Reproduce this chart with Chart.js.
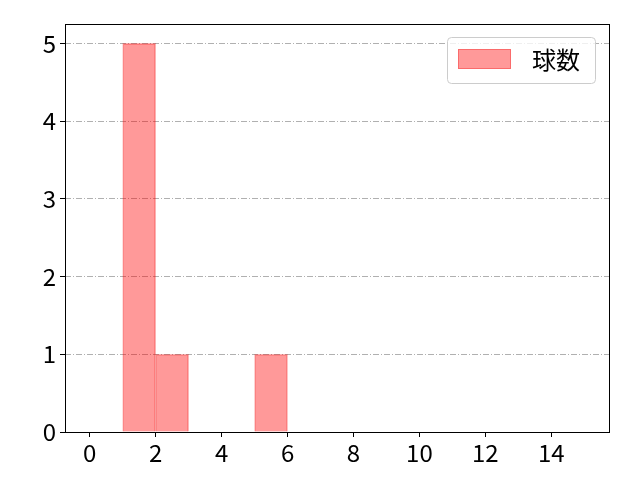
<!DOCTYPE html>
<html>
<head>
<meta charset="utf-8">
<script src="https://cdn.jsdelivr.net/npm/chart.js@4/dist/chart.umd.min.js"></script>
<style>
  body { margin: 0; background: #fff; }
  #wrap { width: 640px; height: 480px; }
</style>
</head>
<body>
<div id="wrap"><canvas id="histChart" width="640" height="480"></canvas></div>
<script>
// histogram bins (width 1) and counts
const binStarts = [0, 1, 2, 3, 4, 5, 6, 7, 8, 9, 10, 11, 12, 13, 14];
const counts = [0, 5, 1, 0, 0, 1, 0, 0, 0, 0, 0, 0, 0, 0, 0];
const seriesLabel = '球数';
const xTicks = [0, 2, 4, 6, 8, 10, 12, 14];
const yTicks = [0, 1, 2, 3, 4, 5];

const fontFam = "'Noto Sans CJK JP', 'Noto Sans', sans-serif";
const tickFont = { family: fontFam, size: 24 };
const fillCol = 'rgba(255, 0, 0, 0.4)';
const edgeCol = 'rgba(240, 0, 0, 0.3)';

// custom legend box like the original (top right, inside the plot)
const boxLegend = {
    id: 'boxLegend',
    afterDraw: chart => {
        let ctx = chart.ctx;
        let x = 447, y = 37, w = 148, h = 46;
        ctx.save();
        ctx.fillStyle = 'rgba(255,255,255,0.8)';
        ctx.strokeStyle = '#cccccc';
        ctx.lineWidth = 1;
        ctx.beginPath();
        ctx.roundRect(x + 0.5, y + 0.5, w, h, 4);
        ctx.fill();
        ctx.stroke();
        ctx.fillStyle = fillCol;
        ctx.fillRect(458, 49, 53, 20);
        ctx.strokeStyle = edgeCol;
        ctx.strokeRect(458.5, 49.5, 52, 19);
        ctx.fillStyle = '#000';
        ctx.font = '24px ' + fontFam;
        ctx.textBaseline = 'middle';
        ctx.fillText(chart.data.datasets[0].label, 532, 60);
        ctx.restore();
    }
};

// black frame around the plot area
const frame = {
    id: 'frame',
    afterDraw: chart => {
        let a = chart.chartArea;
        let ctx = chart.ctx;
        ctx.save();
        ctx.strokeStyle = '#000';
        ctx.lineWidth = 1;
        ctx.strokeRect(Math.round(a.left) + 0.5, Math.round(a.top) + 0.5,
            Math.round(a.right - a.left), Math.round(a.bottom - a.top));
        ctx.restore();
    }
};

let barChartObj = document.getElementById('histChart').getContext('2d');

let histChart = new Chart(barChartObj, {
    type: 'bar',
    data: {
        datasets: [{
            label: seriesLabel,
            data: binStarts.map((b, i) => ({ x: b + 0.5, y: counts[i] })),
            backgroundColor: fillCol,
            borderColor: edgeCol,
            borderWidth: 1,
            barPercentage: 1,
            categoryPercentage: 1,
            grouped: false
        }]
    },
    options: {
        responsive: false,
        animation: false,
        layout: { padding: { left: 0, right: 31, top: 24, bottom: 0 } },
        plugins: { legend: { display: false }, tooltip: { enabled: false } },
        scales: {
            x: {
                type: 'linear',
                offset: false,
                min: -0.75,
                max: 15.75,
                afterBuildTicks: scale => { scale.ticks = xTicks.map(v => ({ value: v })); },
                afterFit: scale => { scale.height = 48; },
                ticks: { color: '#000', font: tickFont, padding: 1, maxRotation: 0 },
                grid: { display: true, drawOnChartArea: false, drawTicks: true, tickLength: 5, tickColor: '#000', offset: false },
                border: { display: false }
            },
            y: {
                min: 0,
                max: 5.25,
                afterBuildTicks: scale => { scale.ticks = yTicks.map(v => ({ value: v })); },
                afterFit: scale => { scale.width = 65; },
                ticks: { color: '#000', font: tickFont, padding: 4 },
                grid: {
                    color: ctx => ctx.tick.value === 0 ? 'rgba(0,0,0,0)' : '#b0b0b0',
                    tickColor: '#000',
                    tickLength: 5,
                    lineWidth: 1
                },
                border: { display: false, dash: [6, 2, 1, 2] }
            }
        }
    },
    plugins: [frame, boxLegend]
});
</script>
</body>
</html>
